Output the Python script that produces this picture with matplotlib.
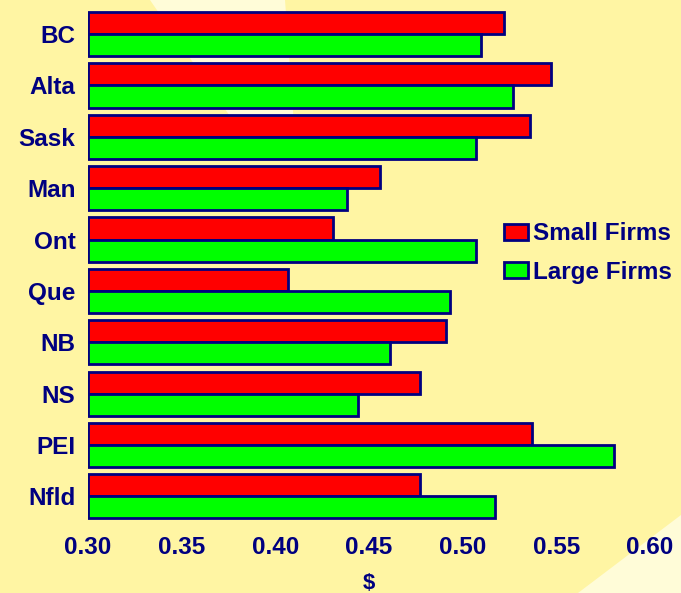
import matplotlib
matplotlib.use("Agg")
import matplotlib.pyplot as plt
from matplotlib.patches import Polygon
import numpy as np

provinces = ["BC", "Alta", "Sask", "Man", "Ont", "Que", "NB", "NS", "PEI", "Nfld"]
small_firms = [0.522, 0.547, 0.536, 0.456, 0.431, 0.407, 0.491, 0.477, 0.537, 0.477]
large_firms = [0.510, 0.527, 0.507, 0.438, 0.507, 0.493, 0.461, 0.444, 0.581, 0.517]
x_ticks = [0.30, 0.35, 0.40, 0.45, 0.50, 0.55, 0.60]

NAVY = "#000080"
BG = "#FFF5A3"
LIGHT = "#FFFCD8"

plt.rcParams["font.family"] = ["Liberation Sans", "DejaVu Sans"]
plt.rcParams["font.weight"] = "bold"

W, H = 681, 593
fig = plt.figure(figsize=(W / 100, H / 100), dpi=100, facecolor=BG)

# decorative light bands in the slide background (pixel coords -> figure fraction)
def fig_poly(points, color):
    pts = [(x / W, 1 - y / H) for x, y in points]
    fig.patches.append(Polygon(pts, closed=True, transform=fig.transFigure,
                               facecolor=color, edgecolor="none", zorder=-5))

fig_poly([(150, 0), (285, 0), (294, 125), (236, 125)], LIGHT)
fig_poly([(681, 515), (681, 593), (578, 593)], LIGHT)

ax = fig.add_axes([88 / W, 1 - 522 / H, (650 - 88) / W, (522 - 8.4) / H])
ax.set_zorder(5)
ax.set_facecolor("none")

y = np.arange(len(provinces))
h = 0.43
ax.barh(y - h / 2, np.array(small_firms) - 0.30, left=0.30, height=h,
        color="#FF0000", edgecolor=NAVY, linewidth=2.0, label="Small Firms")
ax.barh(y + h / 2, np.array(large_firms) - 0.30, left=0.30, height=h,
        color="#00FF00", edgecolor=NAVY, linewidth=2.0, label="Large Firms")

ax.set_xlim(0.30, 0.60)
ax.set_ylim(len(provinces) - 0.5, -0.5)
ax.set_yticks(y)
ax.set_yticklabels(provinces)
ax.set_xticks(x_ticks)
ax.set_xticklabels([f"{v:.2f}" for v in x_ticks])
ax.tick_params(axis="both", length=0, labelsize=17.5, labelcolor=NAVY)
ax.tick_params(axis="x", pad=10)
ax.tick_params(axis="y", pad=9)
for s in ax.spines.values():
    s.set_visible(False)

ax.set_xlabel("$", fontsize=16, color=NAVY, fontweight="bold", labelpad=10)

leg = fig.legend(loc="center left", bbox_to_anchor=(504 / W, 1 - 253 / H),
                 frameon=False, fontsize=17.5, handlelength=1.0, handleheight=0.65,
                 handletextpad=0.18, labelspacing=0.62, borderpad=0, borderaxespad=0)
leg.set_zorder(6)
for t in leg.get_texts():
    t.set_color(NAVY)
    t.set_fontweight("bold")

fig.savefig("out.png", dpi=100, facecolor=BG)
